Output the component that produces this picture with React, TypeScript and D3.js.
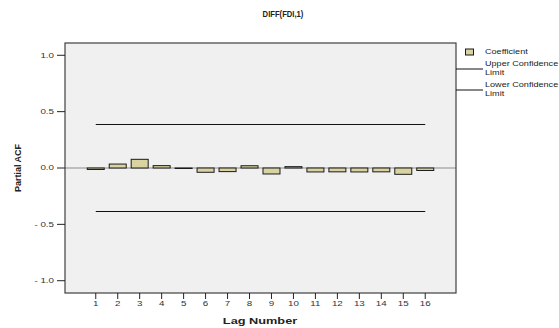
import { useRef, useEffect } from 'react'
import * as d3 from 'd3'

const title = 'DIFF(FDI,1)'
const lags = [1, 2, 3, 4, 5, 6, 7, 8, 9, 10, 11, 12, 13, 14, 15, 16]
const coefficients = [-0.013, 0.035, 0.077, 0.021, -0.004, -0.038, -0.032, 0.02, -0.053, 0.012, -0.035, -0.034, -0.035, -0.034, -0.056, -0.022]
const upperLimit = 0.386
const lowerLimit = -0.386
const yTicks = [1.0, 0.5, 0.0, -0.5, -1.0]
const yTickLabels = ['1.0', '0.5', '0.0', '- 0.5', '- 1.0']
const legendItems = [
  { kind: 'box', lines: ['Coefficient'] },
  { kind: 'line', lines: ['Upper Confidence', 'Limit'] },
  { kind: 'line', lines: ['Lower Confidence', 'Limit'] },
]

const font = '"Liberation Sans", Arial, sans-serif'

// SPSS export renders its text stretched sideways, so each label gets its own x scale
const addText = (parent, x, y, str, opts) => {
  const { size = 7, sx = 1.4, anchor = 'start', bold = false, fill = '#333', dy = '0.35em' } = opts || {}
  return parent.append('text')
    .attr('transform', `translate(${x}, ${y}) scale(${sx}, 1)`)
    .attr('dy', dy)
    .attr('text-anchor', anchor)
    .attr('font-family', font)
    .attr('font-size', size)
    .attr('font-weight', bold ? 'bold' : 'normal')
    .attr('fill', fill)
    .text(str)
}

const App = () => {
  const ref = useRef<SVGSVGElement>(null)

  useEffect(() => {
    const svg = d3.select(ref.current)
    svg.selectAll('*').remove()

    const width = 559
    const height = 328
    const plot = { left: 65, right: 456, top: 43, bottom: 293 }

    svg.attr('width', width).attr('height', height)

    const x = d3.scaleLinear()
      .domain([-0.4, 17.4])
      .range([plot.left, plot.right])

    const y = d3.scaleLinear()
      .domain([-1.109, 1.109])
      .range([plot.bottom, plot.top])

    svg.append('rect')
      .attr('x', plot.left)
      .attr('y', plot.top)
      .attr('width', plot.right - plot.left)
      .attr('height', plot.bottom - plot.top)
      .attr('fill', '#f0f0f0')

    // zero line
    svg.append('line')
      .attr('x1', plot.left).attr('x2', plot.right)
      .attr('y1', y(0)).attr('y2', y(0))
      .attr('stroke', '#8c8c8c')
      .attr('stroke-width', 1)

    const barW = 17
    svg.append('g')
      .selectAll('rect')
      .data(coefficients)
      .enter()
      .append('rect')
      .attr('x', (d, i) => x(lags[i]) - barW / 2)
      .attr('y', (d) => Math.min(y(d), y(0)))
      .attr('width', barW)
      .attr('height', (d) => Math.max(Math.abs(y(d) - y(0)), 0.5))
      .attr('fill', '#d8d3a0')
      .attr('stroke', '#1a1a1a')
      .attr('stroke-width', 1)

    // confidence limits
    const limitLine = d3.line<number>()
      .x((d) => x(d))
    ;[upperLimit, lowerLimit].forEach((v) => {
      svg.append('path')
        .attr('d', limitLine.y(() => y(v))([lags[0], lags[lags.length - 1]]))
        .attr('stroke', '#111')
        .attr('stroke-width', 1)
        .attr('fill', 'none')
    })

    // frame
    svg.append('rect')
      .attr('x', plot.left)
      .attr('y', plot.top)
      .attr('width', plot.right - plot.left)
      .attr('height', plot.bottom - plot.top)
      .attr('fill', 'none')
      .attr('stroke', '#404040')
      .attr('stroke-width', 1.2)

    // y axis
    const yAxis = svg.append('g')
    yTicks.forEach((t, i) => {
      yAxis.append('line')
        .attr('x1', plot.left - 8).attr('x2', plot.left)
        .attr('y1', y(t)).attr('y2', y(t))
        .attr('stroke', '#222')
      addText(yAxis, plot.left - 11, y(t), yTickLabels[i], { anchor: 'end' })
    })

    // x axis
    const xAxis = svg.append('g')
    lags.forEach((l) => {
      xAxis.append('line')
        .attr('x1', x(l)).attr('x2', x(l))
        .attr('y1', plot.bottom).attr('y2', plot.bottom + 6)
        .attr('stroke', '#222')
      addText(xAxis, x(l), plot.bottom + 11, l, { anchor: 'middle' })
    })

    addText(svg, 260, 324, 'Lag Number', { size: 8.5, sx: 1.5, anchor: 'middle', bold: true, fill: '#222', dy: 0 })

    svg.append('text')
      .attr('transform', `translate(21, ${y(0)}) rotate(-90)`)
      .attr('text-anchor', 'middle')
      .attr('font-family', font)
      .attr('font-size', 9)
      .attr('font-weight', 'bold')
      .attr('fill', '#222')
      .text('Partial ACF')

    addText(svg, 283, 16.5, title, { size: 9, sx: 0.85, anchor: 'middle', bold: true, fill: '#222', dy: 0 })

    // legend
    const legend = svg.append('g')
    const rowY = [52, 64, 85]
    legendItems.forEach((item, i) => {
      if (item.kind === 'box') {
        legend.append('rect')
          .attr('x', 465.5).attr('y', rowY[i] - 3)
          .attr('width', 8).attr('height', 6)
          .attr('fill', '#d8d3a0')
          .attr('stroke', '#1a1a1a')
      } else {
        legend.append('line')
          .attr('x1', plot.right).attr('x2', 483)
          .attr('y1', rowY[i] + 5).attr('y2', rowY[i] + 5)
          .attr('stroke', '#111')
      }
      item.lines.forEach((s, j) => {
        addText(legend, 485, rowY[i] + j * 9, s, { size: 6.5, sx: 1.4, fill: '#222' })
      })
    })
  }, [])

  return (
    <svg ref={ref} style={{ position: 'absolute', left: 0, top: 0, display: 'block' }} />
  )
}

export default App
